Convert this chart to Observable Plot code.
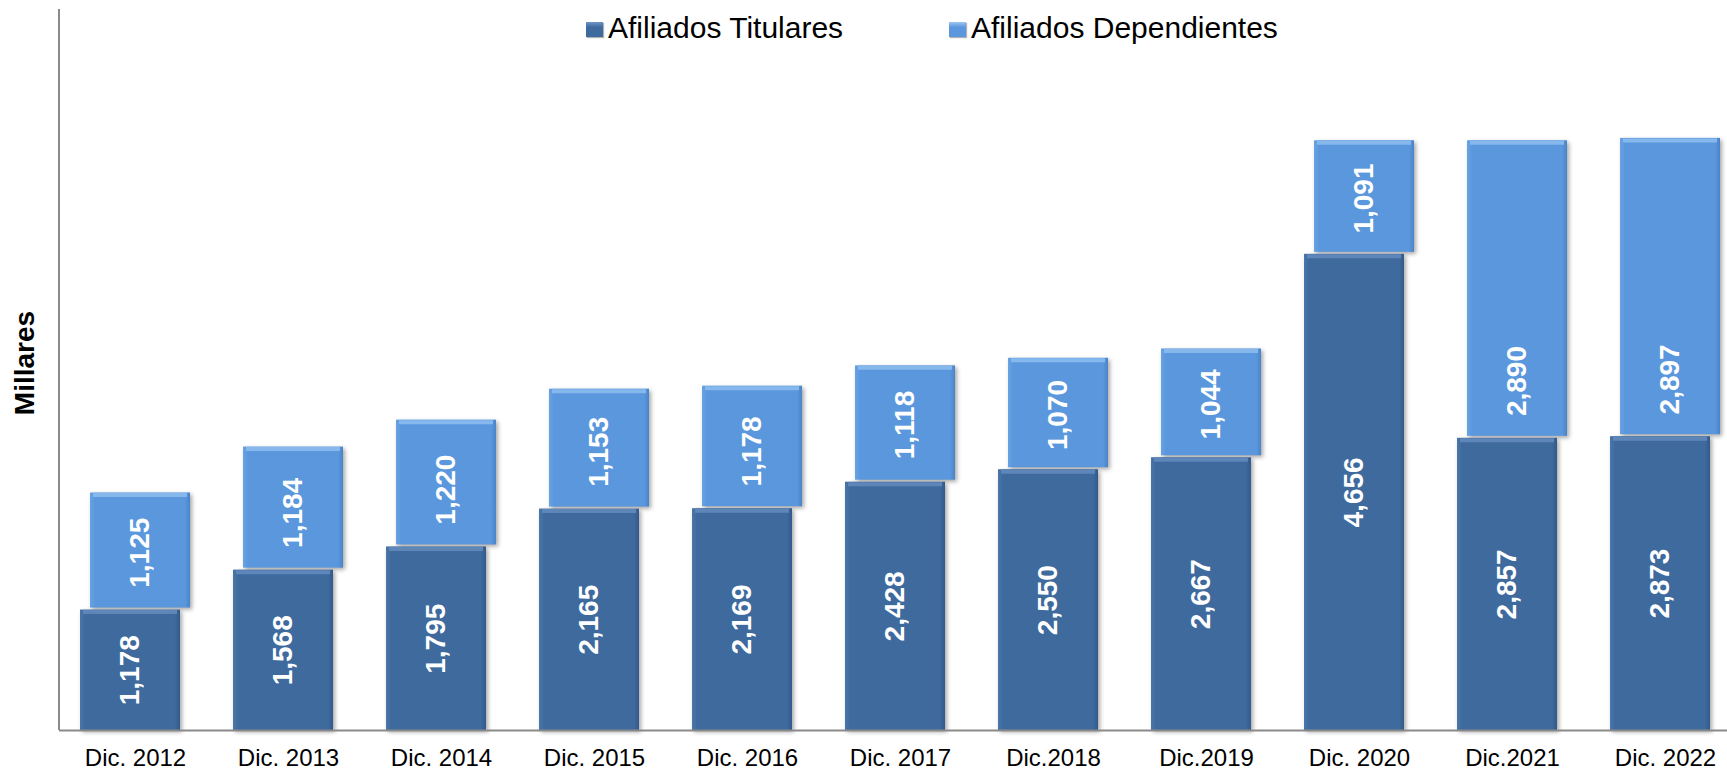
<!DOCTYPE html>
<html>
<head>
<meta charset="utf-8">
<script src="https://cdn.jsdelivr.net/npm/d3@7"></script>
<script src="https://cdn.jsdelivr.net/npm/@observablehq/plot@0.6"></script>
<style>
  body { margin: 0; background: #fff; }
  #wrap { position: relative; width: 1727px; height: 771px; font-family: "Liberation Sans", Arial, sans-serif; }
  #chart { position: absolute; left: 0; top: 0; }
  .leg { position: absolute; top: 10px; display: flex; align-items: center; font-size: 30px; color: #000; white-space: nowrap; line-height: 36px; }
  .sw { width: 17px; height: 15px; margin-right: 5px; margin-top: 3px; box-shadow: 1px 1px 1px rgba(0,0,0,0.3); }
  #ylab { position: absolute; left: 25px; top: 363px; transform: translate(-50%, -50%) rotate(-90deg);
          font-weight: bold; font-size: 28px; color: #000; white-space: nowrap; }
</style>
</head>
<body>
<div id="wrap">
  <div id="chart"></div>
  <div id="ylab"></div>
  <div id="legend"></div>
</div>
<script>
const categorias = ["Dic. 2012","Dic. 2013","Dic. 2014","Dic. 2015","Dic. 2016","Dic. 2017","Dic.2018","Dic.2019","Dic. 2020","Dic.2021","Dic. 2022"];
const titulares = [1178, 1568, 1795, 2165, 2169, 2428, 2550, 2667, 4656, 2857, 2873];
const dependientes = [1125, 1184, 1220, 1153, 1178, 1118, 1070, 1044, 1091, 2890, 2897];
const series = ["Afiliados Titulares", "Afiliados Dependientes"];
const colores = ["#3E6A9E", "#5A97DD"];
const ejeY = "Millares";

const rows = categorias.map((c, i) => ({cat: c, tit: titulares[i], dep: dependientes[i], tot: titulares[i] + dependientes[i]}));
const fmt = d3.format(",");
const labelCap = 1120;

const plot = Plot.plot({
  width: 1727,
  height: 771,
  marginTop: 9,
  marginBottom: 41,
  marginLeft: 59,
  marginRight: 0,
  style: {fontFamily: "'Liberation Sans', Arial, sans-serif", background: "white", color: "#000"},
  x: {domain: categorias, range: [52.4, 1737.6], paddingInner: 0.347, paddingOuter: 0.1735},
  y: {domain: [0, 7050], axis: null},
  marks: [
    Plot.barY(rows, {x: "cat", y1: "tit", y2: "tot", fill: "url(#gLight)", dx: 10, dy: -2}),
    Plot.tickY(rows, {x: "cat", y: "tot", dx: 10, dy: 0, stroke: "#86B8EE", strokeWidth: 4, inset: 3}),
    Plot.barY(rows, {x: "cat", y1: 0, y2: "tit", fill: "url(#gDark)"}),
    Plot.tickY(rows, {x: "cat", y: "tit", dy: 2, stroke: "#5F86B8", strokeWidth: 4, inset: 3}),
    Plot.ruleY([0], {stroke: "#8a8a8a", strokeWidth: 2}),
    Plot.axisX({tickSize: 0, tickPadding: 18, fontSize: 24, dx: 5, label: null}),
    Plot.text(rows, {x: "cat", y: d => d.tit / 2, text: d => fmt(d.tit), rotate: -90, fill: "white",
      fontSize: 28, fontWeight: "bold", textAnchor: "middle", lineAnchor: "middle"}),
    Plot.text(rows, {x: "cat", y: d => d.tit + Math.min(d.dep, labelCap) / 2, text: d => fmt(d.dep), rotate: -90, fill: "white",
      fontSize: 28, fontWeight: "bold", textAnchor: "middle", lineAnchor: "middle", dx: 10})
  ]
});

// gradients for the bevelled look
const svg = d3.select(plot);
const defs = svg.insert("defs", ":first-child");
function grad(id, edge, mid, edge2) {
  const g = defs.append("linearGradient").attr("id", id).attr("x1", "0").attr("x2", "1").attr("y1", "0").attr("y2", "0");
  g.append("stop").attr("offset", "0%").attr("stop-color", edge);
  g.append("stop").attr("offset", "5%").attr("stop-color", mid);
  g.append("stop").attr("offset", "95%").attr("stop-color", mid);
  g.append("stop").attr("offset", "100%").attr("stop-color", edge2);
}
grad("gDark", "#4A76AA", colores[0], "#33598A");
grad("gLight", "#6AA3E4", colores[1], "#4A84C8");
svg.selectAll('g[aria-label="bar"]').style("filter", "drop-shadow(2px 2px 2px rgba(0,0,0,0.35))");

// vertical axis line at the frame's left edge
const yr = plot.scale("y").range;
svg.append("line")
  .attr("x1", 59).attr("x2", 59)
  .attr("y1", yr[1]).attr("y2", yr[0])
  .attr("stroke", "#8a8a8a").attr("stroke-width", 2);

document.getElementById("chart").appendChild(plot);
document.getElementById("ylab").textContent = ejeY;

// legend
const legend = document.getElementById("legend");
const legLeft = [586, 949];
const swGrad = [
  `linear-gradient(to bottom, #6F95C4 0%, ${colores[0]} 35%, ${colores[0]} 100%)`,
  `linear-gradient(to bottom, #9CC6F4 0%, ${colores[1]} 35%, ${colores[1]} 100%)`
];
series.forEach((s, i) => {
  const item = document.createElement("div");
  item.className = "leg";
  item.style.left = legLeft[i] + "px";
  const sw = document.createElement("div");
  sw.className = "sw";
  sw.style.background = swGrad[i];
  const t = document.createElement("span");
  t.textContent = s;
  item.appendChild(sw);
  item.appendChild(t);
  legend.appendChild(item);
});
</script>
</body>
</html>
